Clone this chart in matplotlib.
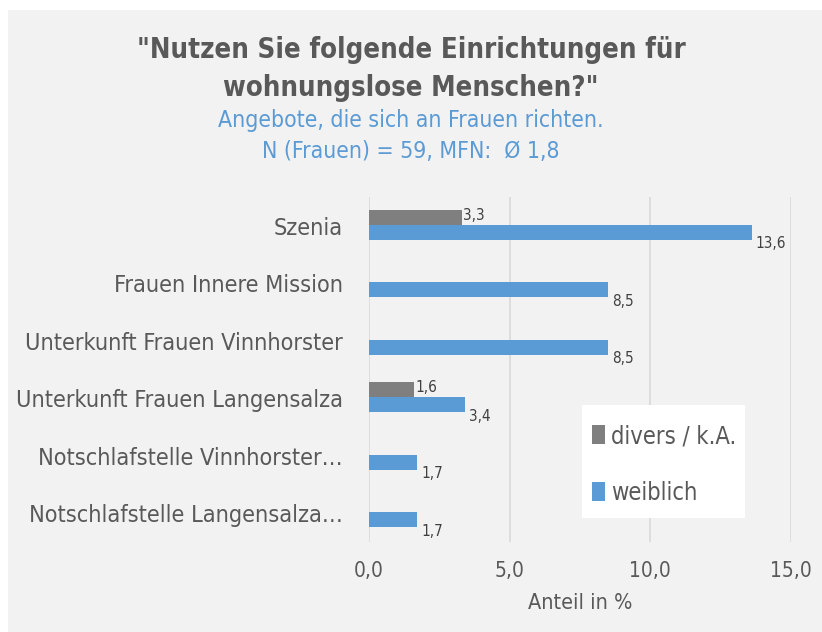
import matplotlib
matplotlib.use("Agg")
import matplotlib.pyplot as plt
from matplotlib.patches import Rectangle
import numpy as np

categories = ["Szenia", "Frauen Innere Mission", "Unterkunft Frauen Vinnhorster",
              "Unterkunft Frauen Langensalza", "Notschlafstelle Vinnhorster…",
              "Notschlafstelle Langensalza…"]
divers = [3.3, None, None, 1.6, None, None]
weiblich = [13.6, 8.5, 8.5, 3.4, 1.7, 1.7]
xticks = [0, 5, 10, 15]

plt.rcParams['font.family'] = ['DejaVu Sans']
plt.rcParams['font.stretch'] = 'condensed'

BG = '#f2f2f2'
BLUE = '#5b9bd5'
GRAY = '#7f7f7f'
TXT = '#595959'

fig = plt.figure(figsize=(8.22, 6.32), dpi=100)
fig.patch.set_facecolor('white')
fig.patches.append(Rectangle((8/822, 0), 1 - 8/822, 1 - 10/632, transform=fig.transFigure,
                             facecolor=BG, edgecolor='none', zorder=-10))

ax = fig.add_axes([369/822, 1 - 542/632, (791 - 369)/822, (542 - 197)/632])
ax.set_facecolor(BG)

y = np.arange(len(categories))
h = 0.26
dv = [v if v is not None else 0 for v in divers]
ax.barh(y - h/2 - 0.02, dv, height=h, color=GRAY, label='divers / k.A.', zorder=3)
ax.barh(y + h/2 - 0.02, weiblich, height=h, color=BLUE, label='weiblich', zorder=3)

def fmt(v):
    return f"{v:.1f}".replace('.', ',')

for i, v in enumerate(divers):
    if v is not None:
        ax.text(v + 0.05, i - h/2 - 0.05, fmt(v), va='center', ha='left', fontsize=11, color='#404040')
for i, v in enumerate(weiblich):
    ax.text(v + 0.15, i + h/2 + 0.18, fmt(v), va='center', ha='left', fontsize=11, color='#404040')

ax.set_xlim(0, 15)
ax.set_ylim(len(categories) - 0.5, -0.5)
ax.set_xticks(xticks)
ax.set_xticklabels([fmt(t) for t in xticks], fontsize=15, color=TXT)
ax.set_yticks(y)
ax.set_yticklabels(categories, fontsize=16.8, color=TXT)
ax.tick_params(axis='both', length=0)
ax.tick_params(axis='x', pad=14)
ax.tick_params(axis='y', pad=19)
ax.grid(axis='x', color='#d9d9d9', linewidth=1.2, zorder=0)
for s in ax.spines.values():
    s.set_visible(False)
ax.set_xlabel('Anteil in %', fontsize=15.5, color=TXT, labelpad=8)

# legend box
box = Rectangle((582/822, 1 - 518/632), 163/822, 113/632, transform=fig.transFigure,
                facecolor='white', edgecolor='none', zorder=5, clip_on=False)
ax.add_patch(box)
handles, labels = ax.get_legend_handles_labels()
leg = ax.legend(handles, labels, loc='upper left', bbox_to_anchor=(592/822, 1 - 424/632),
                bbox_transform=fig.transFigure, frameon=False, fontsize=17,
                handlelength=0.55, handleheight=0.85, handletextpad=0.25,
                labelspacing=1.4, borderpad=0, borderaxespad=0, labelcolor=TXT)
leg.set_zorder(6)

fig.text(0.5, 1 - 69/632, '"Nutzen Sie folgende Einrichtungen für\nwohnungslose Menschen?"',
         ha='center', va='center', fontsize=19.8, fontweight='bold', color=TXT, linespacing=1.45)
fig.text(0.5, 1 - 121/632, 'Angebote, die sich an Frauen richten.', ha='center', va='center',
         fontsize=16.5, color=BLUE)
fig.text(0.5, 1 - 152/632, 'N (Frauen) = 59, MFN:  Ø 1,8', ha='center', va='center',
         fontsize=16.5, color=BLUE)

fig.savefig('out.png', dpi=100, facecolor=fig.get_facecolor())
